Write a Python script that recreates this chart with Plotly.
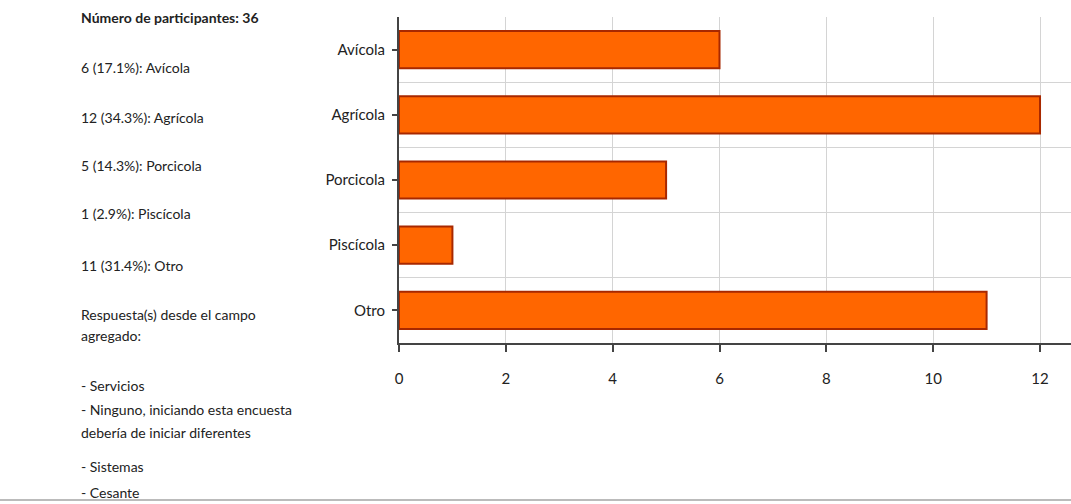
import plotly.graph_objects as go

categories = ["Avícola", "Agrícola", "Porcicola", "Piscícola", "Otro"]
counts = [6, 12, 5, 1, 11]
participants = 36
x_ticks = [0, 2, 4, 6, 8, 10, 12]
added_title = ["Respuesta(s) desde el campo", "agregado:"]
added_answers = [["- Servicios"],
                 ["- Ninguno, iniciando esta encuesta", "debería de iniciar diferentes"],
                 ["- Sistemas"],
                 ["- Cesante"]]

W, H = 1071, 504
L, R, T, B = 399, 0, 17, 161
FONT = "Lato, sans-serif"
TXT = "#222222"
FS = 14

fig = go.Figure()
fig.add_trace(go.Bar(
    x=counts, y=categories, orientation="h", width=0.57,
    marker=dict(color="#FF6600", line=dict(color="#A82800", width=2)),
    hoverinfo="x+y", showlegend=False,
))
# invisible trace to carry the tick-label axis
fig.add_trace(go.Scatter(x=[0] * len(categories), y=categories, yaxis="y2",
                         mode="none", hoverinfo="skip", showlegend=False))

n = len(categories)
yr = [n - 0.5, -0.5]
fig.update_layout(
    width=W, height=H,
    margin=dict(l=L, r=R, t=T, b=B),
    paper_bgcolor="white", plot_bgcolor="white",
    font=dict(family=FONT, size=FS, color=TXT),
    xaxis=dict(range=[0, 12.58], tickvals=x_ticks, showgrid=True, gridcolor="#d4d4d4",
               gridwidth=1, zeroline=False, showline=True, linecolor="#444444", linewidth=1.5,
               ticks="outside", ticklen=7, tickcolor="#444444", tickwidth=1.5,
               ticklabelstandoff=14, tickfont=dict(size=15, color=TXT)),
    yaxis=dict(type="category", categoryarray=categories, range=yr, tickson="boundaries",
               showgrid=True, gridcolor="#d4d4d4", gridwidth=1, showticklabels=False,
               ticks="", showline=True, linecolor="#444444", linewidth=1.5, zeroline=False),
    yaxis2=dict(type="category", categoryarray=categories, range=yr, overlaying="y",
                side="left", showgrid=False, ticks="outside", ticklen=6, tickcolor="#444444",
                tickwidth=1.5, ticklabelstandoff=4, tickfont=dict(size=15, color=TXT),
                showline=False, zeroline=False),
)

total = sum(counts)
def px_x(px):
    return (px - L) / (W - L - R)
def px_y(py):
    return 1 - (py - T) / (H - T - B)

lines = ["<b>Número de participantes: %d</b>" % participants]
for c, v in zip(categories, counts):
    lines.append("%d (%.1f%%): %s" % (v, v / total * 100, c))
lines += added_title
for item in added_answers:
    lines += item

line_y = [17, 67, 117, 165, 214, 265, 314, 335, 386, 409, 432, 466, 492]
for txt, yy in zip(lines, line_y):
    fig.add_annotation(text=txt, xref="paper", yref="paper", x=px_x(79), y=px_y(yy),
                       xanchor="left", yanchor="middle", showarrow=False, align="left",
                       font=dict(family=FONT, size=FS, color=TXT))

fig.add_shape(type="line", xref="paper", yref="paper", x0=px_x(0), x1=px_x(W),
              y0=px_y(500), y1=px_y(500), line=dict(color="#bbbbbb", width=2))

fig.write_html("out.html")
